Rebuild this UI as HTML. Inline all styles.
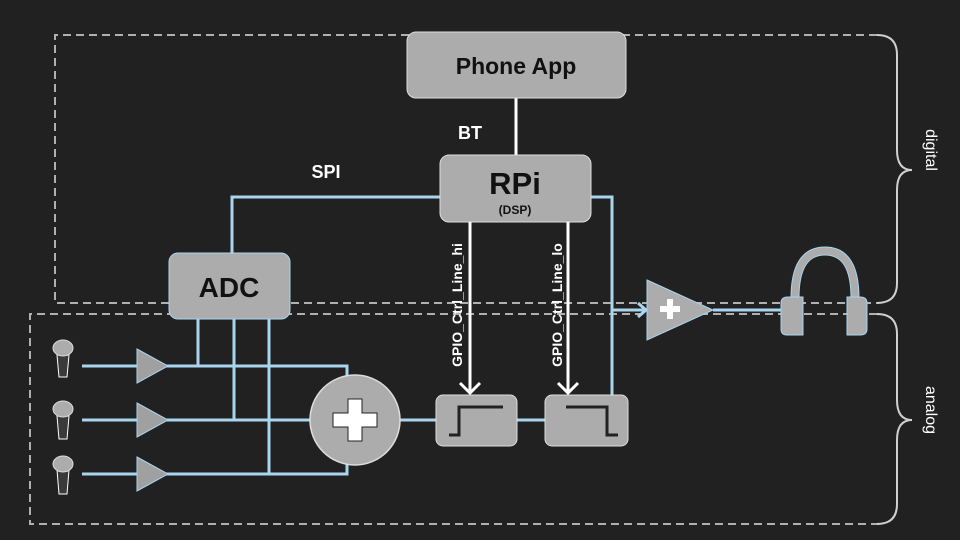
<!DOCTYPE html>
<html><head><style>body{margin:0;background:#212121}svg{display:block}</style></head><body>
<svg width="960" height="540" viewBox="0 0 960 540" xmlns="http://www.w3.org/2000/svg" font-family="Liberation Sans, Arial, sans-serif">
<rect width="960" height="540" fill="#212121"/>
<g fill="none" stroke="#b0b0b0" stroke-width="2" stroke-dasharray="8,5">
<path d="M877 35 H55 V303 H877"/>
<path d="M877 314 H30 V524 H877"/>
</g>
<g fill="none" stroke="#d0d0d0" stroke-width="2">
<path d="M877 35 Q897 35 897 55 V150 Q897 170 912 170 Q897 170 897 190 V283 Q897 303 877 303"/>
<path d="M877 314 Q897 314 897 334 V400 Q897 420 912 420 Q897 420 897 440 V504 Q897 524 877 524"/>
</g>
<text x="930" y="150" fill="#fff" font-size="16" transform="rotate(90 930 150)" text-anchor="middle" dominant-baseline="middle">digital</text>
<text x="930" y="410" fill="#fff" font-size="16" transform="rotate(90 930 410)" text-anchor="middle" dominant-baseline="middle">analog</text>
<g stroke="#a9d5ef" stroke-width="3" fill="none">
<path d="M440 197 H232 V253"/>
<path d="M591 197 H612 V395"/>
<path d="M612 310 H646"/><path d="M638 303 L646 310 L638 317"/>
<path d="M198 319 V366"/><path d="M234 319 V420"/><path d="M269 319 V474"/>
<path d="M82 366 H347 V380"/><path d="M82 420 H310"/><path d="M82 474 H347 V460"/>
<path d="M400 420 H436"/><path d="M517 420 H545"/>
<path d="M713 310 H785"/>
</g>
<line x1="516" y1="98" x2="516" y2="156" stroke="#fff" stroke-width="3"/>
<rect x="407" y="32" width="219" height="66" rx="9" fill="#acacac" stroke="#ddd"/>
<text x="516" y="74" text-anchor="middle" font-size="23" font-weight="bold" fill="#111">Phone App</text>
<text x="470" y="139" text-anchor="middle" font-size="18" font-weight="bold" fill="#fff">BT</text>
<text x="326" y="178" text-anchor="middle" font-size="18" font-weight="bold" fill="#fff">SPI</text>
<rect x="440" y="155" width="151" height="67" rx="9" fill="#acacac" stroke="#ddd"/>
<text x="515" y="194" text-anchor="middle" font-size="31" font-weight="bold" fill="#111">RPi</text>
<text x="515" y="214" text-anchor="middle" font-size="12" font-weight="bold" fill="#111">(DSP)</text>
<rect x="169" y="253" width="121" height="66" rx="9" fill="#acacac" stroke="#a9d5ef"/>
<text x="229" y="297" text-anchor="middle" font-size="28" font-weight="bold" fill="#111">ADC</text>
<g stroke="#fff" stroke-width="3" fill="none">
<path d="M470 222 V393"/><path d="M460 383 L470 393 L480 383"/>
<path d="M568 222 V393"/><path d="M558 383 L568 393 L578 383"/>
</g>
<text x="462" y="305" transform="rotate(-90 462 305)" text-anchor="middle" font-size="14" font-weight="bold" fill="#fff">GPIO_Ctrl_Line_hi</text>
<text x="562" y="305" transform="rotate(-90 562 305)" text-anchor="middle" font-size="14" font-weight="bold" fill="#fff">GPIO_Ctrl_Line_lo</text>
<rect x="436" y="395" width="81" height="51" rx="7" fill="#acacac" stroke="#ddd"/>
<path d="M449 435 H459 V407 H503" stroke="#222" stroke-width="3" fill="none"/>
<rect x="545" y="395" width="83" height="51" rx="7" fill="#acacac" stroke="#ddd"/>
<path d="M566 407 H607 V435 H618" stroke="#222" stroke-width="3" fill="none"/>
<circle cx="355" cy="420" r="45" fill="#acacac" stroke="#ddd" stroke-width="1.5"/>
<path d="M348 399 H362 V413 H377 V427 H362 V441 H348 V427 H333 V413 H348 Z" fill="#fff" stroke="#222"/>
<g fill="#a0a0a0" stroke="#a9d5ef">
<path d="M137 349 L168 366 L137 383 Z"/><path d="M137 403 L168 420 L137 437 Z"/><path d="M137 457 L168 474 L137 491 Z"/>
</g>
<g fill="#3a3a3a" stroke="#fff">
<path d="M57 355 H69 L67 377 H59 Z"/><path d="M57 416 H69 L67 439 H59 Z"/><path d="M57 470 H69 L67 494 H59 Z"/>
</g>
<g fill="#acacac" stroke="#ddd">
<ellipse cx="63" cy="348" rx="10" ry="8"/><ellipse cx="63" cy="409" rx="10" ry="8"/><ellipse cx="63" cy="464" rx="10" ry="8"/>
</g>
<path d="M647 280 L713 310 L647 340 Z" fill="#acacac" stroke="#a9d5ef"/>
<path d="M660 306 H667 V299 H673 V306 H680 V312 H673 V319 H667 V312 H660 Z" fill="#fff"/>
<path d="M795 298 Q795 251 825 251 Q855 251 855 298" fill="none" stroke="#a9d5ef" stroke-width="9"/>
<path d="M795 298 Q795 251 825 251 Q855 251 855 298" fill="none" stroke="#acacac" stroke-width="7"/>
<path d="M788 297 H803 V335 H787 Q781 335 781 329 V303 Q781 297 788 297 Z" fill="#acacac" stroke="#a9d5ef"/>
<path d="M847 297 H860 Q867 297 867 303 V329 Q867 335 860 335 H847 Z" fill="#acacac" stroke="#a9d5ef"/>
</svg>
</body></html>
